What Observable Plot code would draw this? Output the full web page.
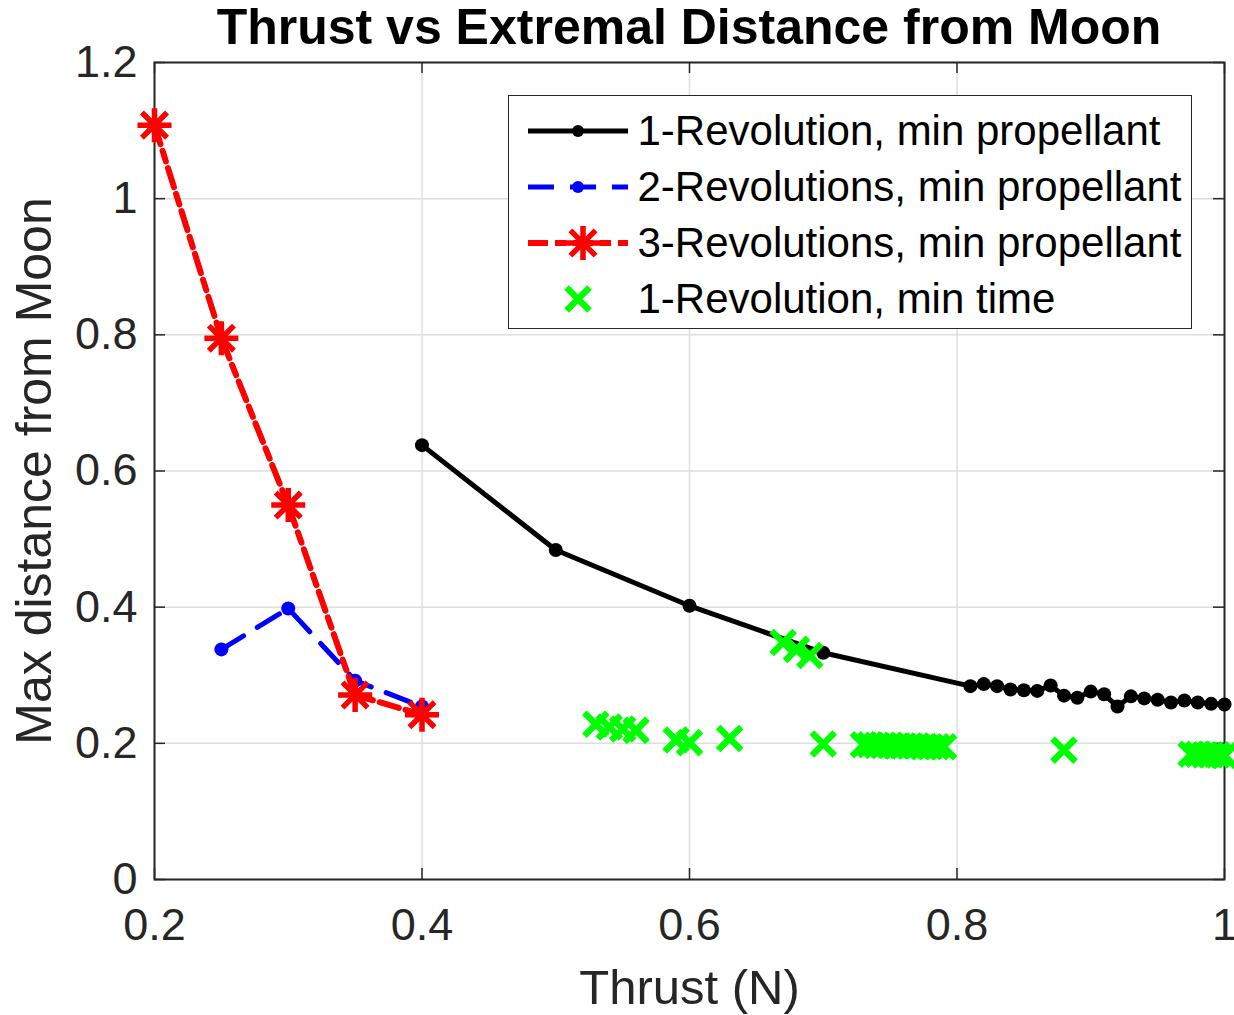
<!DOCTYPE html>
<html>
<head>
<meta charset="utf-8">
<script src="https://cdn.jsdelivr.net/npm/d3@7"></script>
<script src="https://cdn.jsdelivr.net/npm/@observablehq/plot@0.6"></script>
<style>
  html, body { margin: 0; padding: 0; background: #fff; }
  #wrap { position: relative; width: 1234px; height: 1015px; font-family: "Liberation Sans", Arial, sans-serif; }
  #title { position: absolute; left: 154px; width: 1070px; top: 0; height: 55px; line-height: 55px; text-align: center;
           font-weight: bold; font-size: 50px; color: #000; z-index: 2; white-space: nowrap; }
  #legend { position: absolute; left: 508px; top: 95px; width: 684px; height: 234px; box-sizing: border-box;
            border: 1.5px solid #262626; background: #fff; z-index: 2; }
  .row { position: absolute; left: 18.5px; height: 56px; display: flex; align-items: center; }
  .row span { margin-left: 10px; font-size: 42px; line-height: 56px; color: #000; white-space: nowrap; }
  #chart svg { position: absolute; left: 0; top: 0; }
</style>
</head>
<body>
<div id="wrap">
  <div id="title"></div>
  <div id="legend"></div>
  <div id="chart"></div>
</div>
<script>
// ---- data ----
const titleText = "Thrust vs Extremal Distance from Moon";
const xLabel = "Thrust (N)";
const yLabel = "Max distance from Moon";
const xTicks = [0.2, 0.4, 0.6, 0.8, 1];
const xTickLabels = ["0.2", "0.4", "0.6", "0.8", "1"];
const yTicks = [0, 0.2, 0.4, 0.6, 0.8, 1, 1.2];
const yTickLabels = ["0", "0.2", "0.4", "0.6", "0.8", "1", "1.2"];
const seriesNames = ["1-Revolution, min propellant", "2-Revolutions, min propellant", "3-Revolutions, min propellant", "1-Revolution, min time"];

const rev1Thrust = [0.4, 0.5, 0.6, 0.7, 0.81, 0.82, 0.83, 0.84, 0.85, 0.86, 0.87, 0.88, 0.89, 0.90, 0.91, 0.92, 0.93, 0.94, 0.95, 0.96, 0.97, 0.98, 0.99, 1.0];
const rev1Dist   = [0.638, 0.484, 0.402, 0.333, 0.284, 0.287, 0.284, 0.279, 0.278, 0.277, 0.285, 0.270, 0.267, 0.276, 0.272, 0.254, 0.269, 0.266, 0.264, 0.260, 0.263, 0.260, 0.258, 0.257];

const rev2Thrust = [0.25, 0.3, 0.35, 0.4];
const rev2Dist   = [0.338, 0.398, 0.292, 0.254];

const rev3Thrust = [0.2, 0.25, 0.3, 0.35, 0.4];
const rev3Dist   = [1.108, 0.795, 0.550, 0.271, 0.242];

const timeThrust = [0.53, 0.54, 0.55, 0.56, 0.59, 0.60, 0.63, 0.67, 0.68, 0.69, 0.70,
                    0.73, 0.735, 0.74, 0.745, 0.75, 0.755, 0.76, 0.765, 0.77, 0.775, 0.78, 0.785, 0.79,
                    0.88, 0.975, 0.98, 0.985, 0.99, 0.995, 1.0];
const timeDist   = [0.228, 0.224, 0.221, 0.219, 0.205, 0.201, 0.207, 0.348, 0.338, 0.329, 0.199,
                    0.198, 0.198, 0.197, 0.197, 0.197, 0.196, 0.196, 0.196, 0.196, 0.195, 0.195, 0.195, 0.195,
                    0.190, 0.184, 0.184, 0.183, 0.183, 0.183, 0.182];

const colors = ["#000000", "#0000ff", "#ff0000", "#00ff00"];

// ---- build tables ----
const toRows = (xs, ys) => xs.map((x, i) => ({x, y: ys[i]}));
const rev1 = toRows(rev1Thrust, rev1Dist);
const rev2 = toRows(rev2Thrust, rev2Dist);
const rev3 = toRows(rev3Thrust, rev3Dist);
const minTime = toRows(timeThrust, timeDist);

// custom symbols
const asterisk = {
  draw(ctx, size) {
    const r = Math.sqrt(size / Math.PI);
    const d = r * 0.74;
    ctx.moveTo(-r, 0); ctx.lineTo(r, 0);
    ctx.moveTo(0, -r); ctx.lineTo(0, r);
    ctx.moveTo(-d, -d); ctx.lineTo(d, d);
    ctx.moveTo(-d, d); ctx.lineTo(d, -d);
  }
};
const cross = {
  draw(ctx, size) {
    const r = Math.sqrt(size / Math.PI);
    ctx.moveTo(-r, -r); ctx.lineTo(r, r);
    ctx.moveTo(-r, r); ctx.lineTo(r, -r);
  }
};

const W = 1234, H = 1015, mT = 62, mB = 136, mL = 154, mR = 10;
const plotH = H - mT - mB, plotW = W - mL - mR;
const tickLen = 11;
const axisColor = "#262626";
const gridColor = "#dedede";
const dashBlue = "26,16";
const dashRed = "20,7,11,7";
const lineW = 5, redW = 6, dotR = 7, astR = 17, crossR = 11.5, crossW = 6.5;

const chart = Plot.plot({
  width: W, height: H,
  marginTop: mT, marginBottom: mB, marginLeft: mL, marginRight: mR,
  style: {fontFamily: '"Liberation Sans", Arial, sans-serif', background: "transparent", color: axisColor, overflow: "visible"},
  x: {domain: [0.2, 1]},
  y: {domain: [0, 1.2]},
  marks: [
    Plot.gridX(xTicks, {stroke: gridColor, strokeOpacity: 1, strokeWidth: 1.5}),
    Plot.gridY(yTicks, {stroke: gridColor, strokeOpacity: 1, strokeWidth: 1.5}),
    Plot.ruleX(xTicks, {stroke: axisColor, strokeWidth: 1.5, insetTop: plotH - tickLen}),
    Plot.ruleX(xTicks, {stroke: axisColor, strokeWidth: 1.5, insetBottom: plotH - tickLen}),
    Plot.ruleY(yTicks, {stroke: axisColor, strokeWidth: 1.5, insetRight: plotW - tickLen}),
    Plot.ruleY(yTicks, {stroke: axisColor, strokeWidth: 1.5, insetLeft: plotW - tickLen}),
    Plot.frame({stroke: axisColor, strokeWidth: 2}),
    Plot.axisX(xTicks, {tickSize: 0, tickPadding: 29, fontSize: 45, label: null, fill: axisColor,
      tickFormat: d => xTickLabels[xTicks.indexOf(d)]}),
    Plot.axisY(yTicks, {tickSize: 0, tickPadding: 17, fontSize: 45, label: null, fill: axisColor,
      tickFormat: d => yTickLabels[yTicks.indexOf(d)]}),
    Plot.text([xLabel], {text: d => d, frameAnchor: "bottom", textAnchor: "middle", dy: 109, fontSize: 49, lineAnchor: "middle", fill: axisColor}),
    Plot.text([yLabel], {text: d => d, frameAnchor: "left", textAnchor: "middle", dx: -120, rotate: -90, fontSize: 50, lineAnchor: "middle", fill: axisColor}),
    // 1-revolution min propellant
    Plot.line(rev1, {x: "x", y: "y", stroke: colors[0], strokeWidth: lineW}),
    Plot.dot(rev1, {x: "x", y: "y", r: dotR, fill: colors[0], stroke: "none"}),
    // 2-revolutions
    Plot.line(rev2, {x: "x", y: "y", stroke: colors[1], strokeWidth: lineW, strokeDasharray: dashBlue}),
    Plot.dot(rev2, {x: "x", y: "y", r: dotR, fill: colors[1], stroke: "none"}),
    // 3-revolutions
    Plot.line(rev3, {x: "x", y: "y", stroke: colors[2], strokeWidth: redW, strokeDasharray: dashRed}),
    Plot.dot(rev3, {x: "x", y: "y", r: astR, symbol: asterisk, fill: "none", stroke: colors[2], strokeWidth: 5.5}),
    // min time
    Plot.dot(minTime, {x: "x", y: "y", r: crossR, symbol: cross, fill: "none", stroke: colors[3], strokeWidth: crossW})
  ]
});
document.getElementById("chart").appendChild(chart);
document.getElementById("title").textContent = titleText;

// ---- legend ----
const legend = d3.select("#legend");
const swatchDefs = [
  {stroke: colors[0], width: lineW, dash: null, marker: "dot"},
  {stroke: colors[1], width: lineW, dash: dashBlue, marker: "dot"},
  {stroke: colors[2], width: redW, dash: dashRed, marker: "asterisk"},
  {stroke: colors[3], width: crossW, dash: null, marker: "cross", noLine: true}
];
seriesNames.forEach((name, i) => {
  const def = swatchDefs[i];
  const row = legend.append("div").attr("class", "row").style("top", (6.5 + 56 * i) + "px");
  const svg = row.append("svg").attr("width", 100).attr("height", 56);
  if (!def.noLine) {
    svg.append("line").attr("x1", 0).attr("x2", 100).attr("y1", 28).attr("y2", 28)
      .attr("stroke", def.stroke).attr("stroke-width", def.width)
      .attr("stroke-dasharray", def.dash);
  }
  if (def.marker === "dot") {
    svg.append("circle").attr("cx", 50).attr("cy", 28).attr("r", 6).attr("fill", def.stroke);
  } else if (def.marker === "asterisk") {
    svg.append("path").attr("transform", "translate(55,28)")
      .attr("d", d3.symbol(asterisk, Math.PI * astR * astR)())
      .attr("fill", "none").attr("stroke", def.stroke).attr("stroke-width", 5.5);
  } else {
    svg.append("path").attr("transform", "translate(50,28)")
      .attr("d", d3.symbol(cross, Math.PI * crossR * crossR)())
      .attr("fill", "none").attr("stroke", def.stroke).attr("stroke-width", crossW);
  }
  row.append("span").text(name);
});
</script>
</body>
</html>
